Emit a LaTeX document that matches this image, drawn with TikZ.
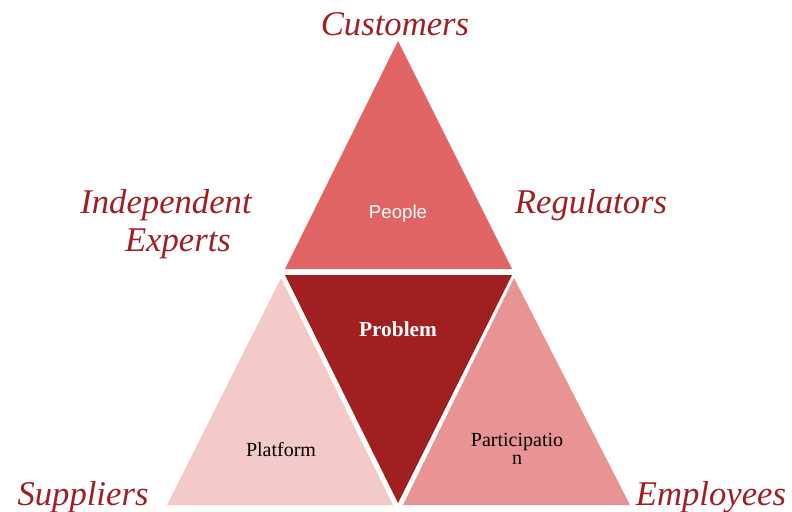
\documentclass[tikz,border=0pt]{standalone}
\usepackage{fontspec}
\setmainfont{Liberation Serif}
\newfontfamily\peoplefont{Liberation Sans}
\usetikzlibrary{positioning}
\definecolor{labelred}{HTML}{A01E24}
\definecolor{peoplered}{HTML}{E06464}
\definecolor{problemred}{HTML}{A01F20}
\definecolor{platformpink}{HTML}{F3C9C9}
\definecolor{partpink}{HTML}{E89495}

\begin{document}
\begin{tikzpicture}[
  x=0.75pt, y=-0.75pt,
  stake/.style={font=\fontsize{26}{30}\selectfont\itshape, text=labelred, anchor=base, inner sep=0pt},
  part/.style={font=\fontsize{15}{18}\selectfont, anchor=base, inner sep=0pt},
]
\useasboundingbox (0,0) rectangle (792,511);

% corners of the four triangles
\coordinate (ptop) at (398,41);
\coordinate (pleft) at (285,269);
\coordinate (pright) at (512,269);
\coordinate (qleft) at (285,275);
\coordinate (qright) at (512,275);
\coordinate (qbot) at (398,503);
\coordinate (ltop) at (281,278);
\coordinate (lleft) at (167,505);
\coordinate (lright) at (393,505);
\coordinate (rtop) at (514,278);
\coordinate (rleft) at (403,505);
\coordinate (rright) at (630,505);

\fill[peoplered] (ptop) -- (pright) -- (pleft) -- cycle;
\fill[problemred] (qleft) -- (qright) -- (qbot) -- cycle;
\fill[platformpink] (ltop) -- (lright) -- (lleft) -- cycle;
\fill[partpink] (rtop) -- (rright) -- (rleft) -- cycle;

% texts inside
\node[part, font=\peoplefont\fontsize{14}{17}\selectfont, text=white] (people) at (398,218) {People};
\node[part, font=\bfseries\fontsize{16}{19}\selectfont, text=white] (problem) at (398,336) {Problem};
\node[part] (platform) at (281,456) {Platform};
\node[part] (particip) at (517,446) {Participatio};
\node[part] (particn) at (517,464) {n};

% stakeholders
\node[stake] (customers) at (395,35) {Customers};
\node[stake] (independent) at (166,213) {Independent};
\node[stake] (experts) at (178,251) {Experts};
\node[stake] (regulators) at (591,213) {Regulators};
\node[stake] (suppliers) at (83,505) {Suppliers};
\node[stake] (employees) at (711,505) {Employees};
\end{tikzpicture}
\end{document}
